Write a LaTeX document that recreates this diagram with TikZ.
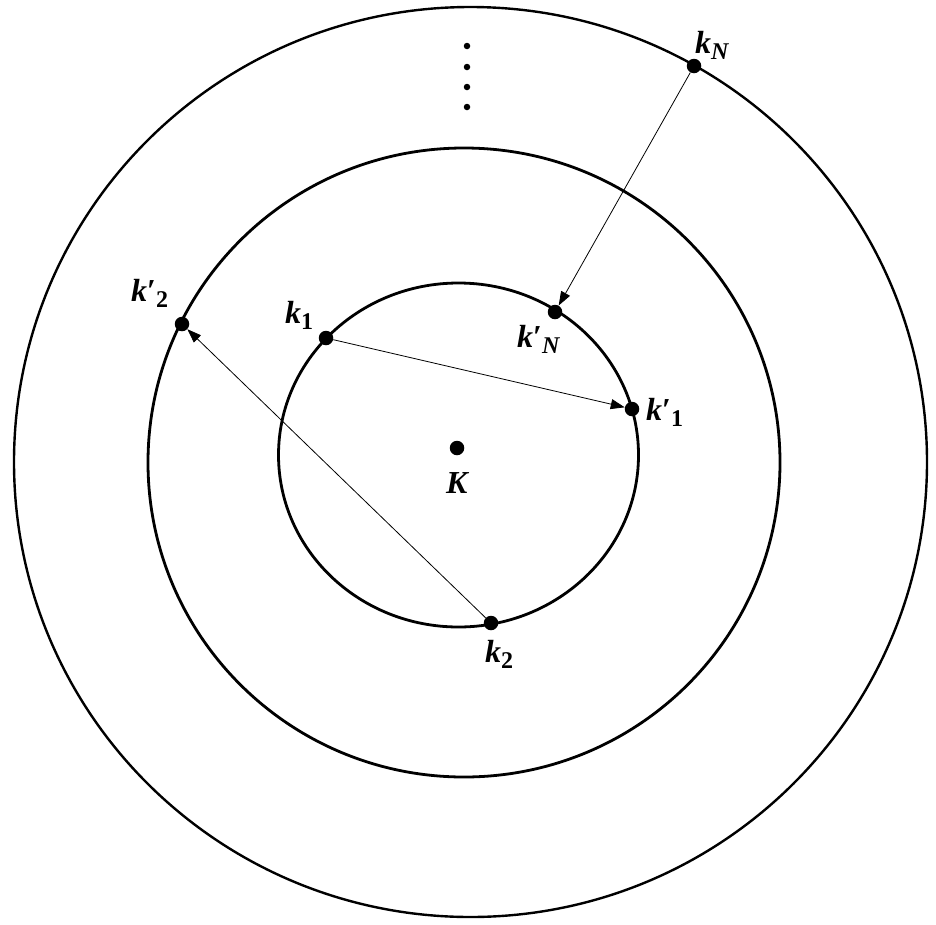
\documentclass[tikz,border=0pt]{standalone}
\usepackage{fontspec}
\setmainfont{Liberation Serif}
\usetikzlibrary{arrows.meta}
\newcommand\klab[2]{\textit{k}#1\raisebox{-6pt}{\fontsize{24}{24}\selectfont #2}}
\tikzset{
  ring/.style={line width=2.8pt},
  dot/.style={circle, fill=black, inner sep=0pt, minimum size=14.5pt},
  smalldot/.style={circle, fill=black, inner sep=0pt, minimum size=6.5pt},
  lab/.style={inner sep=0pt, font=\fontsize{32}{32}\selectfont\bfseries},
  arr/.style={line width=0.8pt, -{Triangle[length=14pt,width=10pt]}}
}
\begin{document}
\begin{tikzpicture}[x=1pt,y=-1pt]
\useasboundingbox[fill=white] (0,0) rectangle (936,924);
% rings
\draw[ring, line width=2.4pt] (470.5,462) ellipse [x radius=456.5, y radius=455];
\draw[ring] (464,462.5) ellipse [x radius=316, y radius=314.5];
\draw[ring] (458.5,455) ellipse [x radius=180, y radius=172];
% points
\node[dot] (K) at (457,448) {};
\node[dot] (kN) at (694,66) {};
\node[dot] (kNp) at (555,312) {};
\node[dot] (k1) at (326,338) {};
\node[dot] (k1p) at (632,409) {};
\node[dot] (k2) at (491,623) {};
\node[dot] (k2p) at (182,324) {};
% vertical ellipsis
\node[smalldot] (e1) at (467,46) {};
\node[smalldot] (e2) at (467,67) {};
\node[smalldot] (e3) at (467,87) {};
\node[smalldot] (e4) at (467,107) {};
% labels
\node[lab, anchor=base west] (lK) at (446,493) {\textit{K}};
\node[lab, anchor=base west] (lkN) at (695,53) {\klab{}{\textit{N}}};
\node[lab, anchor=base west] (lkNp) at (517,347) {\klab{′}{\textit{N}}};
\node[lab, anchor=base west] (lk1) at (285,323) {\klab{}{1}};
\node[lab, anchor=base west] (lk1p) at (646,420) {\klab{′}{1}};
\node[lab, anchor=base west] (lk2) at (485,662) {\klab{}{2}};
\node[lab, anchor=base west] (lk2p) at (131,301) {\klab{′}{2}};
% arrows
\draw[arr] (kN) -- (kNp);
\draw[arr] (k1) -- (k1p);
\draw[arr] (k2) -- (k2p);
\end{tikzpicture}
\end{document}
